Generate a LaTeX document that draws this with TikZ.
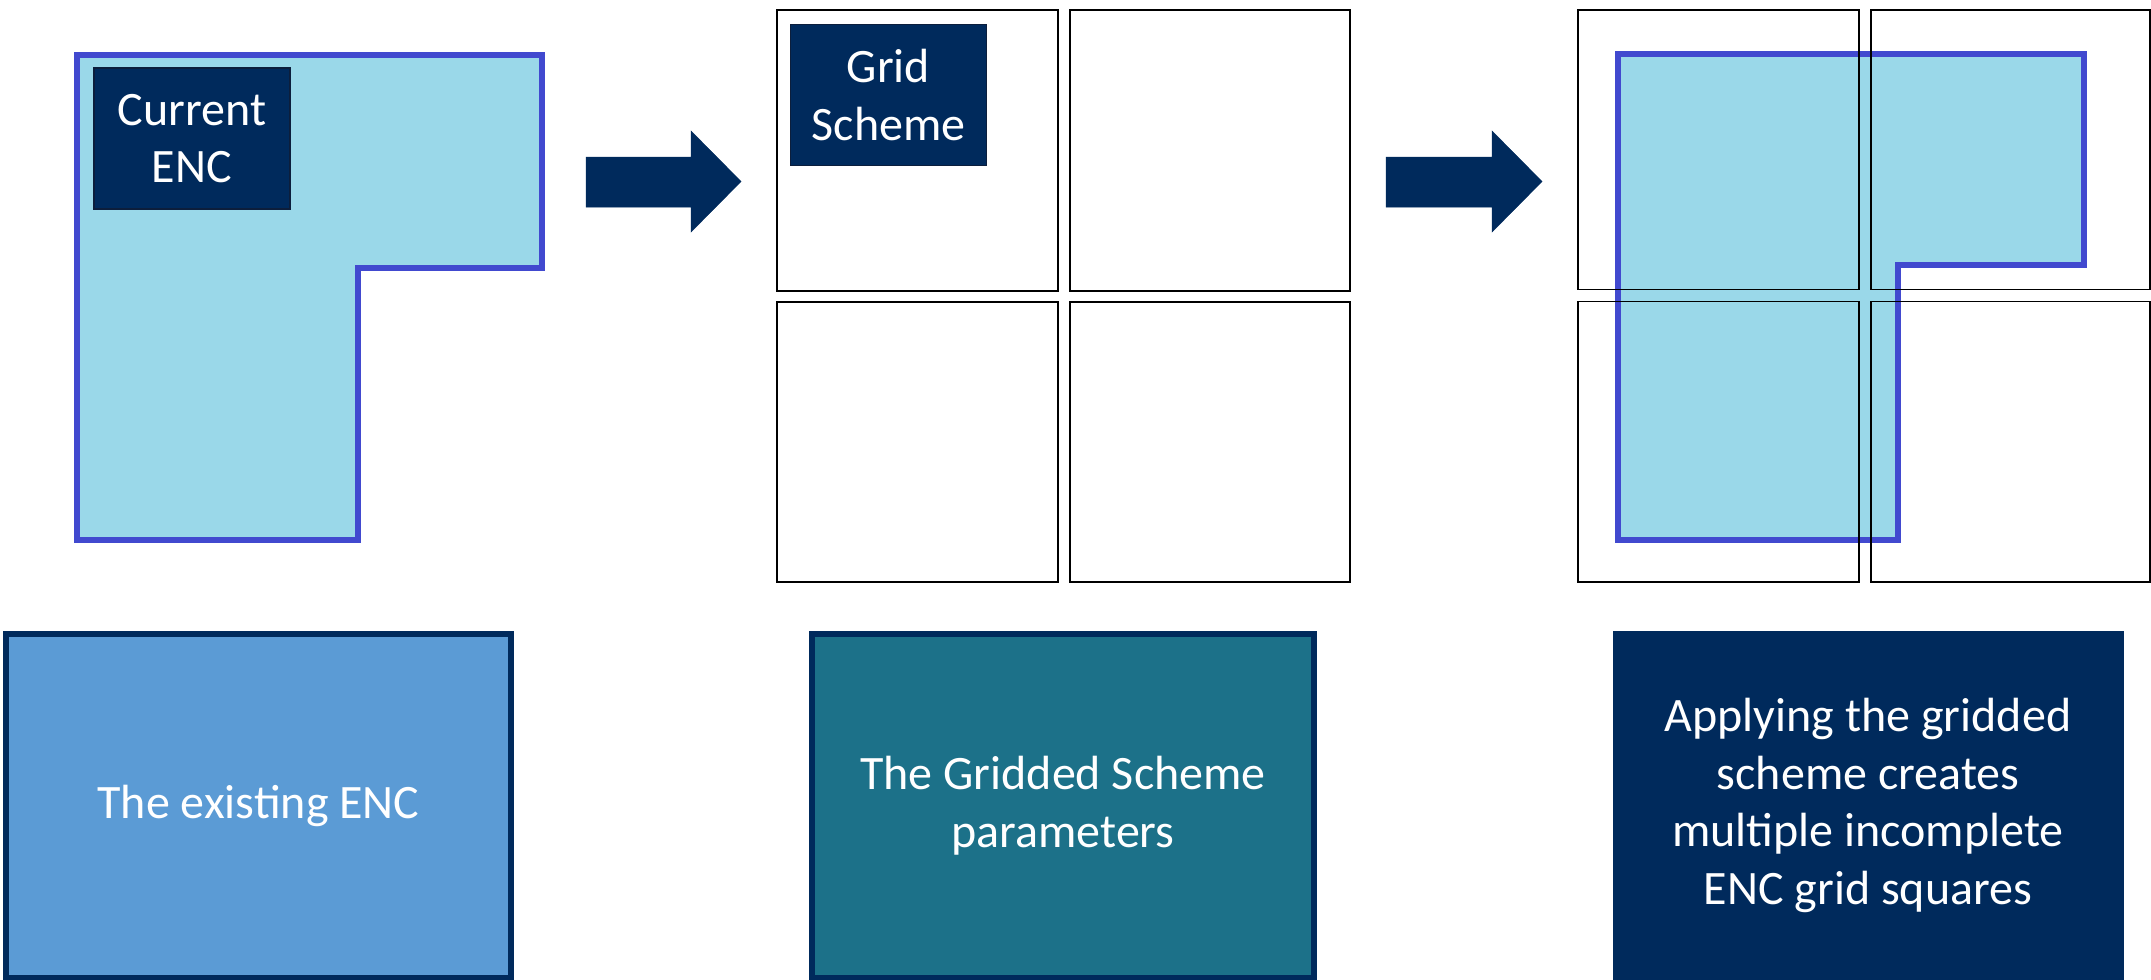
\documentclass[tikz,border=0pt]{standalone}
\usepackage{fontspec}
\setmainfont{Carlito}
\definecolor{navy}{RGB}{0,42,92}
\definecolor{navyedge}{RGB}{12,30,60}
\definecolor{encfill}{RGB}{154,216,233}
\definecolor{encline}{RGB}{65,73,207}
\definecolor{boxblue}{RGB}{91,155,213}
\definecolor{boxteal}{RGB}{28,113,137}
\tikzset{
  txt/.style={text=white, font=\fontsize{48bp}{57.6bp}\selectfont, align=center, inner sep=0pt},
  tagbox/.style={txt, fill=navy, draw=navyedge, line width=1.5bp, minimum width=196bp, minimum height=141bp},
  bigbox/.style={txt, draw=navy, line width=6bp, minimum width=505bp, minimum height=343.5bp},
  encshape/.style={fill=encfill, draw=encline, line width=6bp, line join=miter},
  gridA/.style={draw=black, line width=2.5bp},
  gridB/.style={draw=black, line width=1.5bp},
  blockarrow/.style={fill=navy, draw=navy, line width=0.5bp, line join=miter}
}
\begin{document}
\begin{tikzpicture}[x=1bp,y=-1bp]
\useasboundingbox (0,0) rectangle (2151,980);
% Panel 1: current ENC
\draw[encshape] (77,55) -- (542,55) -- (542,267.5) -- (357.5,267.5) -- (357.5,540) -- (77,540) -- cycle;
\node[tagbox] (cur) at (192,138.5) {Current\\ENC};
% Arrow 1
\path[blockarrow] (586,157) -- (691,157) -- (691,131) -- (741,181.5) -- (691,232) -- (691,207) -- (586,207) -- cycle;
% Panel 2: grid scheme
\draw[gridA] (777,10) rectangle (1058,291);
\draw[gridA] (1070,10) rectangle (1350,291);
\draw[gridA] (777,302) rectangle (1058,582);
\draw[gridA] (1070,302) rectangle (1350,582);
\node[tagbox] (grid) at (888.5,95) {Grid\\Scheme};
% Arrow 2
\path[blockarrow] (1386,157) -- (1492,157) -- (1492,131) -- (1542,181.5) -- (1492,232) -- (1492,207) -- (1386,207) -- cycle;
% Panel 3: gridded ENC
\draw[encshape] (1618,53.5) -- (2084,53.5) -- (2084,265) -- (1898,265) -- (1898,539.5) -- (1618,539.5) -- cycle;
\draw[gridB] (1578,10) rectangle (1859,289.5);
\draw[gridB] (1871,10) rectangle (2150,289.5);
\draw[gridB] (1578,301.5) rectangle (1859,582);
\draw[gridB] (1871,301.5) rectangle (2150,582);
% Bottom captions
\node[bigbox, fill=boxblue] (cap1) at (258.6,805.8) {The existing ENC};
\node[bigbox, fill=boxteal, minimum width=502bp] (cap2) at (1063,805.8) {The Gridded Scheme\\parameters};
\node[txt, fill=navy, minimum width=511bp, minimum height=349bp] (cap3) at (1868,805.5) {Applying the gridded\\scheme creates\\multiple incomplete\\ENC grid squares};
\end{tikzpicture}
\end{document}
